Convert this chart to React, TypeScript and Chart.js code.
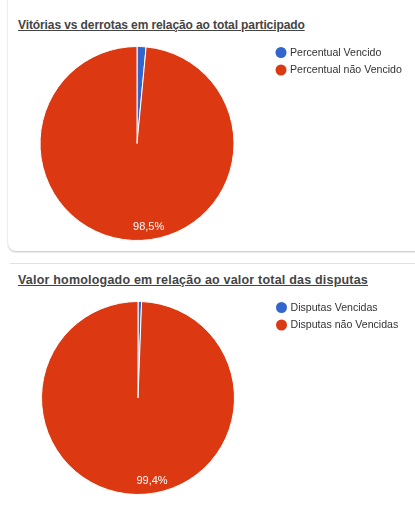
import React, { useEffect, useRef } from "react";
import { Chart, registerables } from "chart.js";

Chart.register(...registerables);

// ---- data ----
const chart1Title = "Vitórias vs derrotas em relação ao total participado";
const chart1Labels = ["Percentual Vencido", "Percentual não Vencido"];
const chart1Values = [1.5, 98.5];

const chart2Title = "Valor homologado em relação ao valor total das disputas";
const chart2Labels = ["Disputas Vencidas", "Disputas não Vencidas"];
const chart2Values = [0.6, 99.4];

const sliceColors = ["#3366CC", "#DC3912"];

const FONT = "'Liberation Sans', Arial, sans-serif";

const pieExtras = {
  id: "pieExtras",
  afterDraw(chart: any, _args: any, opts: any) {
    const ctx = chart.ctx;
    const meta = chart.getDatasetMeta(0);
    const values: number[] = chart.data.datasets[0].data;
    const total = values.reduce((a, b) => a + b, 0);
    ctx.save();
    // slice labels
    ctx.font = `11px ${FONT}`;
    ctx.fillStyle = "#ffffff";
    ctx.textAlign = "left";
    ctx.textBaseline = "middle";
    meta.data.forEach((arc: any, i: number) => {
      const pct = (values[i] / total) * 100;
      if (pct < 5) return;
      const p = arc.getProps(["x", "y", "startAngle", "endAngle", "outerRadius"], true);
      const mid = (p.startAngle + p.endAngle) / 2;
      const d = p.outerRadius * 0.86;
      const txt = pct.toFixed(1).replace(".", ",") + "%";
      ctx.fillText(txt, p.x + Math.cos(mid) * d, p.y + Math.sin(mid) * d);
    });
    // legend
    const area = chart.chartArea;
    const lx = area.right + opts.offsetX;
    const ly = area.top + opts.offsetY;
    chart.data.labels.forEach((lab: string, i: number) => {
      const y = ly + i * 17.5;
      ctx.beginPath();
      ctx.arc(lx, y, 5.5, 0, Math.PI * 2);
      ctx.fillStyle = sliceColors[i];
      ctx.fill();
      ctx.fillStyle = "#333333";
      ctx.font = `10.6px ${FONT}`;
      ctx.textAlign = "left";
      ctx.textBaseline = "middle";
      ctx.fillText(lab, lx + 9, y + 0.5);
    });
    ctx.restore();
  },
};

function PieChart(props: {
  labels: string[];
  values: number[];
  top: number;
  height: number;
  padding: { left: number; right: number; top: number; bottom: number };
}) {
  const ref = useRef<HTMLCanvasElement | null>(null);
  useEffect(() => {
    if (!ref.current) return;
    const chart = new Chart(ref.current, {
      type: "pie",
      data: {
        labels: props.labels,
        datasets: [
          {
            data: props.values,
            backgroundColor: sliceColors,
            borderColor: "#ffffff",
            borderWidth: 1,
          },
        ],
      },
      options: {
        responsive: false,
        animation: false,
        layout: { padding: props.padding },
        plugins: {
          legend: { display: false },
          tooltip: { enabled: false },
          title: { display: false },
          pieExtras: { offsetX: 46.5, offsetY: 6.5 },
        } as any,
      },
      plugins: [pieExtras],
    });
    return () => chart.destroy();
  }, []);
  return (
    <canvas
      ref={ref}
      width={415}
      height={props.height}
      style={{ position: "absolute", left: 0, top: props.top, width: 415, height: props.height }}
    />
  );
}

const titleStyle: React.CSSProperties = {
  position: "absolute",
  left: 18,
  fontFamily: FONT,
  fontWeight: "bold",
  fontSize: 12,
  lineHeight: "14px",
  color: "#444444",
  textDecoration: "underline",
  whiteSpace: "nowrap",
};

export default function App() {
  return (
    <div
      style={{
        position: "fixed",
        left: 0,
        top: 0,
        width: 415,
        height: 515,
        background: "#ffffff",
        overflow: "hidden",
      }}
    >
      <div
        style={{
          position: "absolute",
          left: 8,
          top: -20,
          width: 430,
          height: 271,
          borderRadius: 8,
          background: "#fff",
          boxShadow: "0 1px 2px rgba(0,0,0,0.25)",
        }}
      />
      <div
        style={{
          position: "absolute",
          left: 10,
          top: 263,
          width: 405,
          height: 1,
          background: "#e2e2e2",
        }}
      />
      <div style={{ ...titleStyle, top: 18, letterSpacing: "-0.1px" }}>{chart1Title}</div>
      <PieChart
        labels={chart1Labels}
        values={chart1Values}
        top={40}
        height={210}
        padding={{ left: 39.5, right: 180.5, top: 6, bottom: 9 }}
      />
      <div style={{ ...titleStyle, top: 273, fontSize: 12.5, letterSpacing: "0.2px" }}>{chart2Title}</div>
      <PieChart
        labels={chart2Labels}
        values={chart2Values}
        top={290}
        height={215}
        padding={{ left: 41, right: 180, top: 11, bottom: 10 }}
      />
    </div>
  );
}
